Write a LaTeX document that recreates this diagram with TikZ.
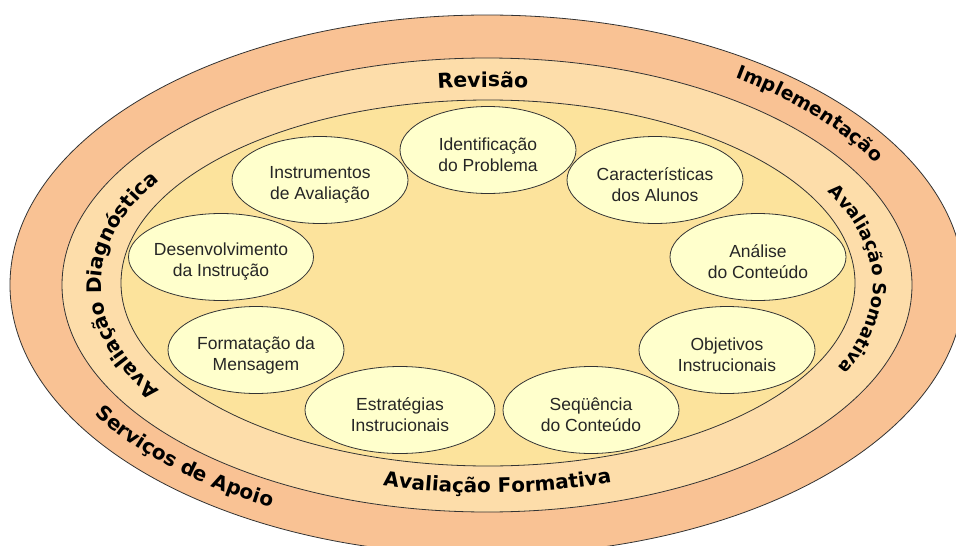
\documentclass[tikz,border=0pt]{standalone}
\usepackage{fontspec}
\setmainfont{Liberation Sans}
\newfontfamily\bandfont{DejaVu Sans}
\usetikzlibrary{shapes.geometric,decorations.text}
\definecolor{outerc}{HTML}{F9C294}
\definecolor{midc}{HTML}{FDDDAA}
\definecolor{innerc}{HTML}{FCE39C}
\definecolor{nodec}{HTML}{FFFFCC}
\definecolor{linec}{HTML}{333333}
\tikzset{
  band/.style={draw=linec, line width=0.8pt},
  topic/.style={ellipse, draw=linec, line width=0.8pt, fill=nodec, minimum width=176pt, minimum height=87pt, inner sep=0pt},
  topictext/.style={align=center, inner sep=0pt, text=black!85, font=\fontsize{17.5}{21}\selectfont},
  bandlabel/.style 2 args={decorate, decoration={text along path, text align=left, text={|\bandfont\bfseries\fontsize{#2}{24}\selectfont|#1}}}
}
\begin{document}
\begin{tikzpicture}[x=1pt,y=1pt]
\useasboundingbox (0,0) rectangle (956,-546);
\clip (0,0) rectangle (956,-546);
\coordinate (C) at (487,-285);
\coordinate (Ci) at (488,-283);
\fill[white] (0,0) rectangle (956,-546);
\draw[band, fill=outerc] (C) ellipse [x radius=477, y radius=270];
\draw[band, fill=midc] (C) ellipse [x radius=425, y radius=227];
\draw[band, fill=innerc] (Ci) ellipse [x radius=367, y radius=183];

% band labels
\path[bandlabel={Revisão}{20.5}] (C) ++(97.4:382 and 198) arc[start angle=97.4, end angle=40, x radius=382, y radius=198];
\path[bandlabel={Avaliação Somativa}{18}] (C) ++(28:386 and 198) arc[start angle=28, end angle=-70, x radius=386, y radius=198];
\path[bandlabel={Avaliação Diagnóstica}{20}] (C) ++(212:386 and 198) arc[start angle=212, end angle=120, x radius=386, y radius=198];
\path[bandlabel={Avaliação Formativa}{20}] (C) ++(254.6:392 and 208) arc[start angle=254.6, end angle=330, x radius=392, y radius=208];
\path[bandlabel={Implementação}{19}] (C) ++(56:445 and 250) arc[start angle=56, end angle=0, x radius=445, y radius=250];
\path[bandlabel={Serviços de Apoio}{20}] (C) ++(211:458 and 252) arc[start angle=211, end angle=275, x radius=458, y radius=252];

% topics
\node[topic] (idp) at (488,-150) {};
\node[topic] (inst) at (320,-180) {};
\node[topic] (car) at (655,-180) {};
\node[topic, minimum width=185pt] (des) at (221,-257) {};
\node[topic] (ana) at (758,-257) {};
\node[topic] (form) at (256,-350) {};
\node[topic] (obj) at (727,-350) {};
\node[topic, minimum width=190pt] (est) at (400,-410) {};
\node[topic] (seq) at (591,-410) {};
\node[topictext] (idp-t) at ([yshift=-5pt]idp.center) {Identificação\\do Problema};
\node[topictext] (inst-t) at ([yshift=-5pt]inst.center) {Instrumentos\\de Avaliação};
\node[topictext] (car-t) at ([yshift=-5pt]car.center) {Características\\dos Alunos};
\node[topictext] (des-t) at ([yshift=-5pt]des.center) {Desenvolvimento\\da Instrução};
\node[topictext] (ana-t) at ([yshift=-5pt]ana.center) {Análise\\do Conteúdo};
\node[topictext] (form-t) at ([yshift=-5pt]form.center) {Formatação da\\Mensagem};
\node[topictext] (obj-t) at ([yshift=-5pt]obj.center) {Objetivos\\Instrucionais};
\node[topictext] (est-t) at ([yshift=-5pt]est.center) {Estratégias\\Instrucionais};
\node[topictext] (seq-t) at ([yshift=-5pt]seq.center) {Seqüência\\do Conteúdo};
\end{tikzpicture}
\end{document}
